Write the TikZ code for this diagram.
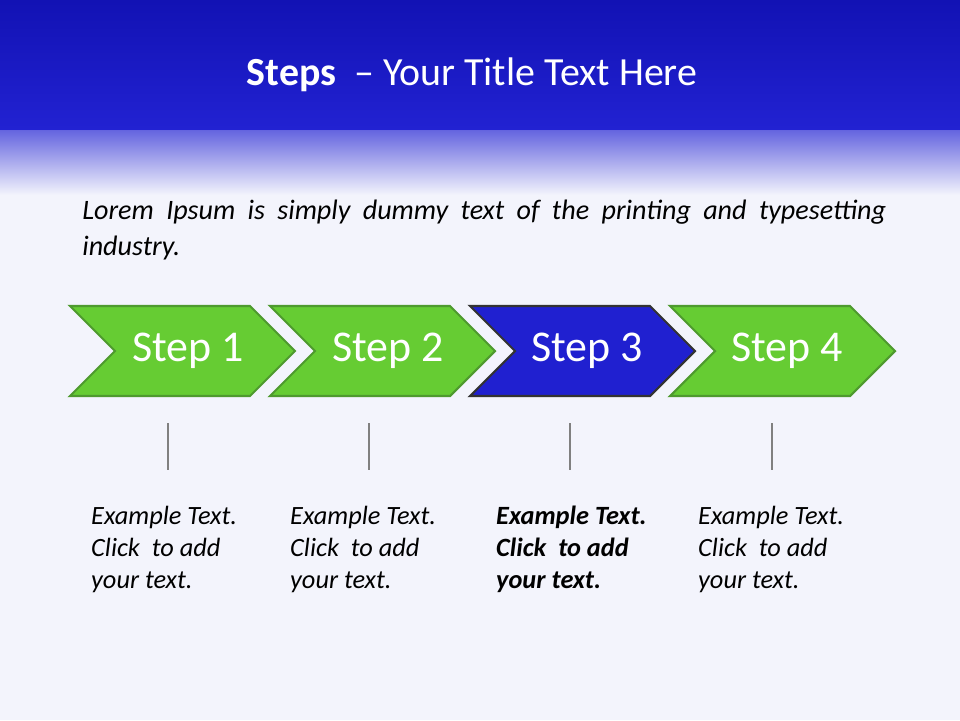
\documentclass[tikz,border=0pt]{standalone}
\usepackage{fontspec}
\setmainfont{Carlito}
\usetikzlibrary{positioning}
\definecolor{hdrblue}{HTML}{1212B4}
\definecolor{hdrblue2}{HTML}{2222D2}
\definecolor{stepgreen}{HTML}{66CC33}
\definecolor{stepedge}{HTML}{4E9A2E}
\definecolor{stepblue}{HTML}{2020D0}
\definecolor{bgtint}{HTML}{F3F4FC}
\tikzset{
  px/.style={x=0.02cm,y=-0.02cm},
  chev/.style={draw=stepedge,line width=1.2pt,fill=stepgreen},
  chevon/.style={draw=black!80,line width=1.2pt,fill=stepblue},
  steplbl/.style={text=white,font=\fontsize{25}{28}\selectfont},
  note/.style={anchor=north west,align=left,font=\fontsize{15}{18.2}\selectfont\itshape},
  tick/.style={draw=gray,line width=1.5pt}
}
\newcommand{\chevron}[2]{% x offset, style
  \draw[#2] (#1,306) -- ++(180,0) -- ++(45,45) -- ++(-45,45) -- ++(-180,0) -- ++(45,-45) -- cycle;}
\begin{document}
\begin{tikzpicture}[px]
\useasboundingbox (0,0) rectangle (960,720);
\fill[bgtint] (0,0) rectangle (960,720);
\shade[top color=hdrblue,bottom color=hdrblue2] (0,0) rectangle (960,130);
\shade[top color=hdrblue2!70!white,bottom color=bgtint] (0,130) rectangle (960,195);
\node[text=white,font=\fontsize{22.7}{26}\selectfont] (title) at (472,75) {\textbf{Steps} \ – Your Title Text Here};
\node[anchor=north west,inner sep=0pt,text width=16.08cm,align=justify,font=\fontsize{16}{20.5}\selectfont\itshape] (intro) at (82,200)
  {Lorem Ipsum is simply dummy text of the printing and typesetting\linebreak industry.};
\chevron{70}{chev}
\chevron{270}{chev}
\chevron{470}{chevon}
\chevron{670}{chev}
\node[steplbl] (s1) at (188,351) {Step 1};
\node[steplbl] (s2) at (388,351) {Step 2};
\node[steplbl] (s3) at (587,351) {Step 3};
\node[steplbl] (s4) at (787,351) {Step 4};
\foreach \x in {168,369,570,772}
  \draw[tick] (\x,423) -- (\x,470);
\node[note] (t1) at (85,500) {Example Text.\\Click \ to add\\your text.};
\node[note] (t2) at (284,500) {Example Text.\\Click \ to add\\your text.};
\node[note,font=\fontsize{15}{18.2}\selectfont\itshape\bfseries] (t3) at (490,500) {Example Text.\\Click \ to add\\your text.};
\node[note] (t4) at (692,500) {Example Text.\\Click \ to add\\your text.};
\end{tikzpicture}
\end{document}
